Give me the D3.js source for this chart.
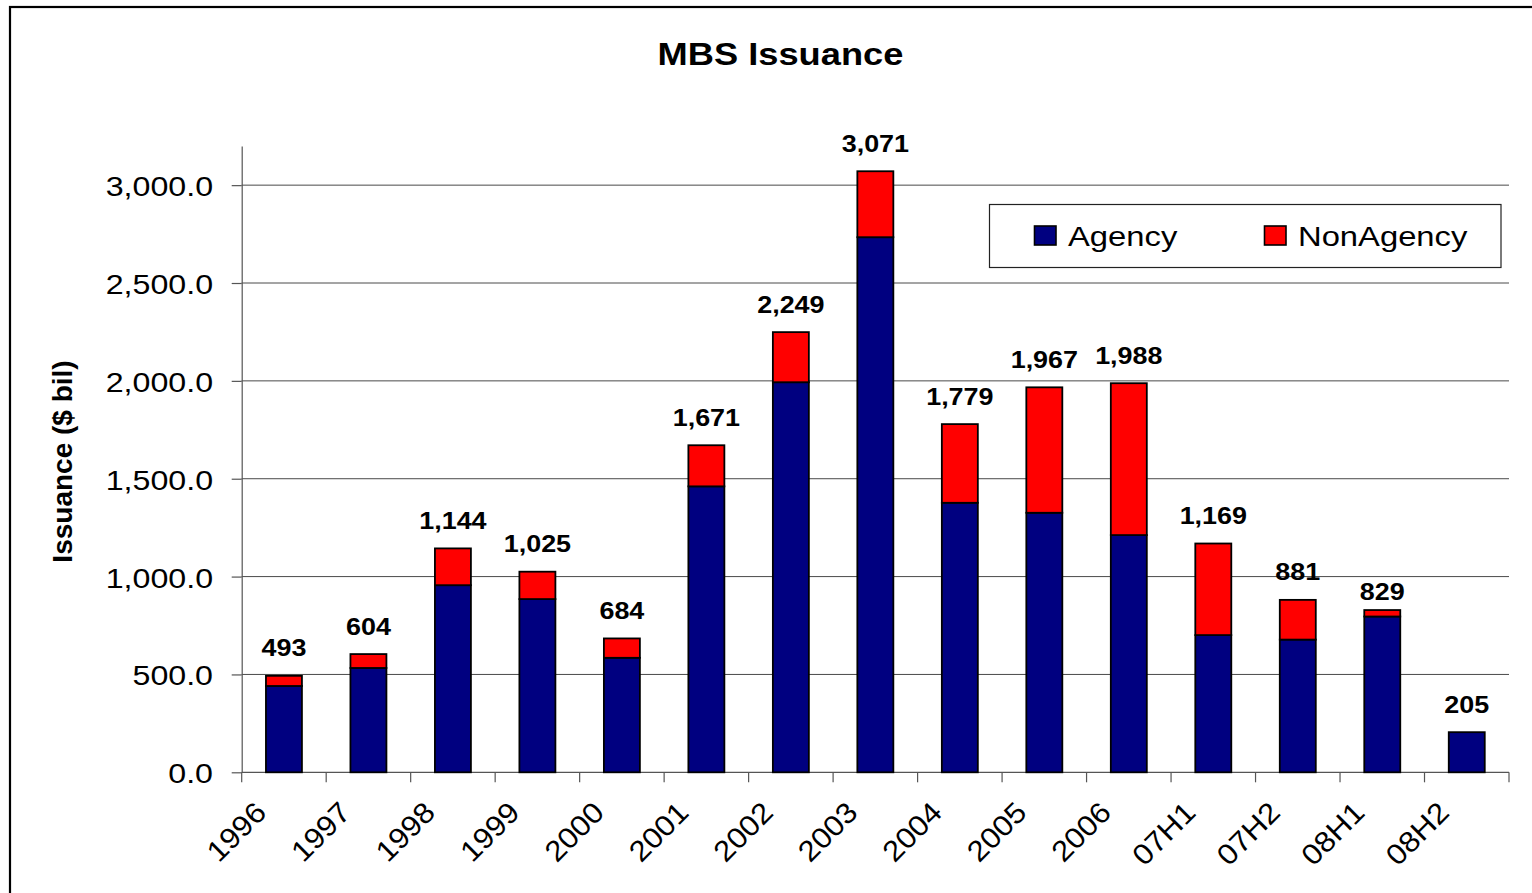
<!DOCTYPE html>
<html>
<head>
<meta charset="utf-8">
<script src="https://cdn.jsdelivr.net/npm/d3@7"></script>
<style>
  html, body { margin: 0; padding: 0; background: #fff; }
  svg { display: block; }
  text { font-family: "Liberation Sans", Arial, Helvetica, sans-serif; fill: #000; }
</style>
</head>
<body>
<svg id="chart" width="1532" height="893"></svg>
<script>
// MBS issuance, $ billions
const categories = ["1996", "1997", "1998", "1999", "2000", "2001", "2002", "2003",
                    "2004", "2005", "2006", "07H1", "07H2", "08H1", "08H2"];
const agency    = [441, 533, 956, 885, 585, 1461, 1993, 2734, 1377, 1326, 1212, 701, 678, 796, 205];
const nonAgency = [52, 71, 188, 140, 99, 210, 256, 337, 402, 641, 776, 468, 203, 33, 0];
const yTicks = [0, 500, 1000, 1500, 2000, 2500, 3000];
const seriesNames = ["Agency", "NonAgency"];
const seriesColors = ["#000080", "#FF0000"];

const rows = categories.map((c, i) => ({ cat: c, Agency: agency[i], NonAgency: nonAgency[i] }));

const svg = d3.select("#chart");
const SX = 1.17; // horizontal widening of the text glyphs

// frame around the chart area
svg.append("rect")
  .attr("x", 10).attr("y", 7).attr("width", 1540).attr("height", 900)
  .attr("fill", "none").attr("stroke", "#000").attr("stroke-width", 2.2);

const plot = { left: 241.7, right: 1509, top: 146, bottom: 772.3 };

const x = d3.scaleBand()
  .domain(categories)
  .range([plot.left, plot.right])
  .paddingInner(0.574)
  .paddingOuter(0.287);

const y = d3.scaleLinear()
  .domain([0, 3200])
  .range([plot.bottom, plot.top]);

// horizontal gridlines
svg.append("g").selectAll("line")
  .data(yTicks.filter(d => d > 0))
  .join("line")
  .attr("x1", plot.left).attr("x2", plot.right)
  .attr("y1", d => y(d)).attr("y2", d => y(d))
  .attr("stroke", "#4a4a4a").attr("stroke-width", 1);

// y axis
const yAxis = svg.append("g")
  .attr("transform", `translate(${plot.left},0)`)
  .call(d3.axisLeft(y).tickValues(yTicks).tickFormat(d3.format(",.1f")).tickSize(10).tickSizeOuter(0));
yAxis.select(".domain").attr("stroke", "#555").attr("stroke-width", 1.2);
yAxis.selectAll(".tick line").attr("stroke", "#555").attr("stroke-width", 1.2);
yAxis.selectAll(".tick text")
  .attr("x", -(plot.left - 213) / SX)
  .attr("dy", null)
  .attr("y", 10.5)
  .attr("transform", `scale(${SX},1)`)
  .style("font-size", "27.5px")
  .style("font-family", "'Liberation Sans', Arial, sans-serif")
  .attr("fill", "#000");

// x axis line and category boundary ticks
svg.append("line")
  .attr("x1", plot.left).attr("x2", plot.right)
  .attr("y1", plot.bottom).attr("y2", plot.bottom)
  .attr("stroke", "#555").attr("stroke-width", 1.2);

const boundaries = d3.range(categories.length + 1).map(i => plot.left + i * x.step());
svg.append("g").selectAll("line")
  .data(boundaries)
  .join("line")
  .attr("x1", d => d).attr("x2", d => d)
  .attr("y1", plot.bottom).attr("y2", plot.bottom + 10)
  .attr("stroke", "#555").attr("stroke-width", 1.2);

// stacked bars
const stacked = d3.stack().keys(seriesNames)(rows);
svg.append("g").selectAll("g")
  .data(stacked)
  .join("g")
  .attr("fill", (d, i) => seriesColors[i])
  .selectAll("rect")
  .data(d => d.filter(s => s[1] - s[0] > 0))
  .join("rect")
  .attr("x", d => x(d.data.cat))
  .attr("width", x.bandwidth())
  .attr("y", d => y(d[1]))
  .attr("height", d => y(d[0]) - y(d[1]))
  .attr("stroke", "#000")
  .attr("stroke-width", 1.8);

// total labels above each bar (the 08H1 label sits a little lower)
const fmt = d3.format(",");
const labelLift = d => (d.cat === "08H1" ? 10 : 19.5);
svg.append("g").selectAll("text")
  .data(rows)
  .join("text")
  .attr("transform", d => `translate(${x(d.cat) + x.bandwidth() / 2},${y(d.Agency + d.NonAgency) - labelLift(d)}) scale(${SX},1)`)
  .attr("text-anchor", "middle")
  .style("font-size", "23px")
  .style("font-weight", "bold")
  .text(d => fmt(d.Agency + d.NonAgency));

// category labels, rotated
svg.append("g").selectAll("text")
  .data(categories)
  .join("text")
  .attr("transform", d => `translate(${x(d) + x.bandwidth() / 2 - 16},${plot.bottom + 42}) rotate(-45) scale(1.08,1)`)
  .attr("text-anchor", "end")
  .style("font-size", "29px")
  .text(d => d);

// title
svg.append("text")
  .attr("transform", `translate(780.5,65) scale(${SX},1)`)
  .attr("text-anchor", "middle")
  .style("font-size", "31px")
  .style("font-weight", "bold")
  .text("MBS Issuance");

// y axis title
svg.append("text")
  .attr("transform", "translate(72,461.5) rotate(-90)")
  .attr("text-anchor", "middle")
  .style("font-size", "28px")
  .style("font-weight", "bold")
  .text("Issuance ($ bil)");

// legend
const legend = svg.append("g");
legend.append("rect")
  .attr("x", 989.5).attr("y", 204.5).attr("width", 511.5).attr("height", 63)
  .attr("fill", "#fff").attr("stroke", "#222").attr("stroke-width", 1.2);
const legendPos = [1034.5, 1264.5];
seriesNames.forEach((name, i) => {
  legend.append("rect")
    .attr("x", legendPos[i]).attr("y", 226)
    .attr("width", 21.5).attr("height", 19)
    .attr("fill", seriesColors[i]).attr("stroke", "#000").attr("stroke-width", 1.6);
  legend.append("text")
    .attr("transform", `translate(${legendPos[i] + 33.5},245.5) scale(${SX},1)`)
    .style("font-size", "28px")
    .text(name);
});
</script>
</body>
</html>
